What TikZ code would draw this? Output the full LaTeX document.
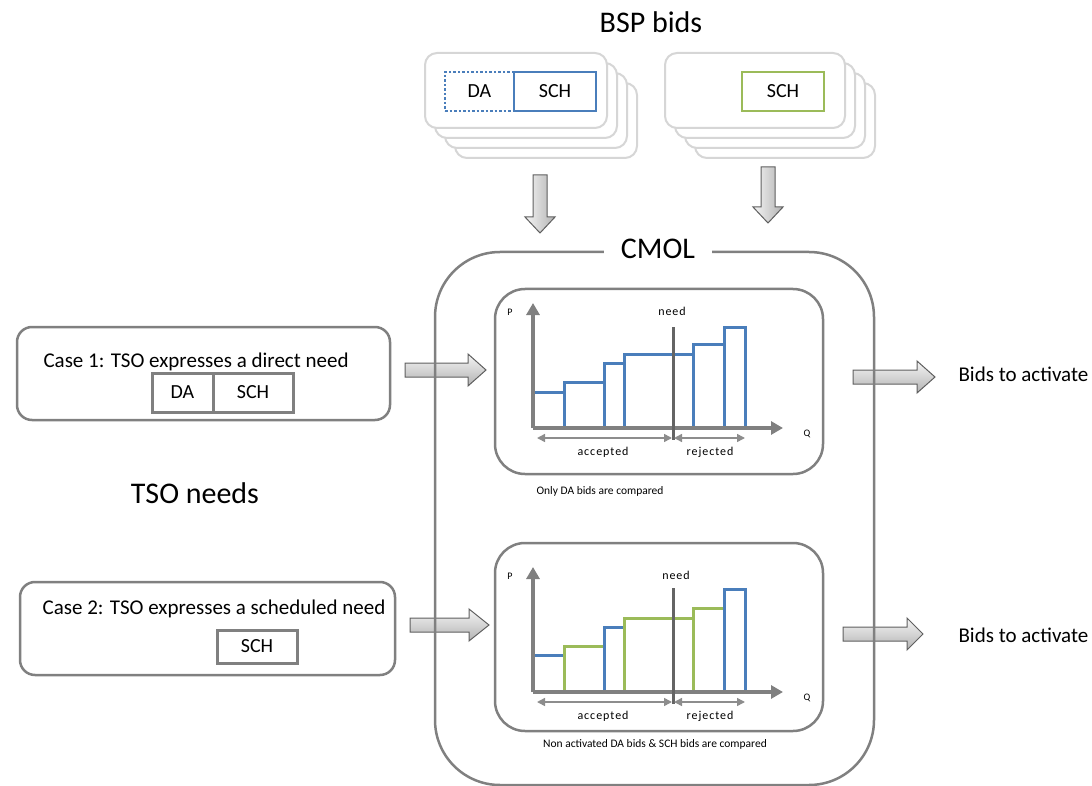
\documentclass[tikz,border=0pt]{standalone}
\usepackage{fontspec}
\setmainfont{Carlito}
\usetikzlibrary{arrows.meta}
\definecolor{bord}{RGB}{128,128,128}
\definecolor{cardc}{RGB}{214,214,214}
\definecolor{bidblue}{RGB}{74,126,187}
\definecolor{bidgreen}{RGB}{155,187,89}
\definecolor{needc}{RGB}{100,100,100}
\definecolor{arrowdraw}{RGB}{95,95,95}
\tikzset{
  frame/.style={draw=bord, line width=2.5pt, rounded corners=#1, inner sep=0pt},
  card/.style={draw=cardc, line width=2pt, fill=white, rounded corners=12pt},
  bidbox/.style={draw=#1, line width=2.5pt, minimum height=39pt, inner sep=0pt, font=\fontsize{20}{20}\selectfont},
  casebox/.style={draw=bord, line width=3pt, inner sep=0pt, font=\fontsize{20}{20}\selectfont},
  blockshade/.style={draw=arrowdraw, line width=1pt, top color=white!92!gray, bottom color=gray!60},
  blockshadev/.style={draw=arrowdraw, line width=1pt, left color=white!92!gray, right color=gray!60},
  bigtext/.style={font=\fontsize{30}{30}\selectfont},
  midtext/.style={font=\fontsize{21}{21}\selectfont},
  charttext/.style={font=\fontsize{12}{12}\selectfont\addfontfeature{LetterSpace=8}},
  captext/.style={font=\fontsize{11.5}{11.5}\selectfont},
  axislabel/.style={font=\fontsize{10}{10}\selectfont},
  axisline/.style={draw=bord, line width=4pt, -{Triangle[length=12pt,width=13pt]}},
  rangearrow/.style={draw=bord!90, line width=1.5pt, {Triangle[length=8pt,width=8pt]}-{Triangle[length=8pt,width=8pt]}},
  bar/.style={line width=3pt},
  needline/.style={draw=needc, line width=3pt}
}
\newcommand\harrow[4]{%
  \shade[blockshade] (#1,#4-7) -- (#2,#4-7) -- (#2,#4-16) -- (#3,#4) -- (#2,#4+16) -- (#2,#4+7) -- (#1,#4+7) -- cycle;}
\newcommand\varrow[4]{%
  \shade[blockshadev] (#1-7,#2) -- (#1+7,#2) -- (#1+7,#3) -- (#1+15,#3) -- (#1,#4) -- (#1-15,#3) -- (#1-7,#3) -- cycle;}
\newcommand\chartbars[1]{%
  \foreach \xa/\xb/\hh/\cc in {#1} {\draw[bar, draw=\cc] (\xa,0) -- (\xa,-\hh) -- (\xb,-\hh) -- (\xb,0);}}
\newcommand\chartaxes[1]{%
  \draw[axisline] (0,0) -- (0,-125);
  \draw[axisline] (0,0) -- (250,0);
  \draw[needline] (140,-#1) -- (140,12);
  \draw[rangearrow] (4,10) -- (139,10);
  \draw[rangearrow] (141,10) -- (212,10);
  \node[charttext] at (70,24) {accepted};
  \node[charttext] at (177,24) {rejected};
  \node[axislabel] at (-23,-116) {P};
  \node[axislabel] at (274,6) {Q};}
\begin{document}
\begin{tikzpicture}[x=1pt,y=-1pt]
\useasboundingbox (0,0) rectangle (1092,786);
% block arrows
\harrow{405}{468}{486}{370}
\harrow{410}{469}{489}{625}
\harrow{853}{917}{935}{377}
\harrow{843}{907}{923}{634}
\varrow{540}{175}{217}{233}
\varrow{768}{167}{207}{223}
% title
\node[bigtext] (bsp) at (651,22) {BSP bids};
% left card stack
\foreach \k in {3,2,1,0} {\draw[card] (425+10*\k,53+10*\k) rectangle (607+10*\k,128+10*\k);}
\node[bidbox=bidblue, dotted, minimum width=69pt] (da1) at (479.5,91.5) {DA};
\node[bidbox=bidblue, minimum width=82pt] (sch1) at (555,91.5) {SCH};
% right card stack
\foreach \k in {3,2,1,0} {\draw[card] (665+10*\k,53+10*\k) rectangle (845+10*\k,128+10*\k);}
\node[bidbox=bidgreen, minimum width=82pt] (sch2) at (783,91.5) {SCH};
% TSO side
\node[frame=15pt, minimum width=373pt, minimum height=93pt] (case1) at (203.5,373.5) {};
\node[midtext, anchor=west] (case1t) at (40,362) {Case 1: TSO expresses a direct need};
\node[casebox, minimum width=61pt, minimum height=39pt] (cda) at (182.5,392.5) {DA};
\node[casebox, minimum width=80pt, minimum height=39pt] (csch) at (253,392.5) {SCH};
\node[bigtext] (tso) at (195,493) {TSO needs};
\node[frame=15pt, minimum width=375pt, minimum height=93pt] (case2) at (207.5,628.5) {};
\node[midtext] (case2t) at (214,609) {Case 2: TSO expresses a scheduled need};
\node[casebox, minimum width=80pt, minimum height=33pt] (csch2) at (257,646.5) {SCH};
% CMOL
\node[frame=65pt, minimum width=439pt, minimum height=533pt] (cmol) at (654.5,518.5) {};
\node[bigtext, fill=white, inner xsep=17pt, inner ysep=2pt] (cmolt) at (658,249) {CMOL};
\node[frame=30pt, minimum width=328pt, minimum height=185pt] (box1) at (659,381.5) {};
\node[frame=30pt, minimum width=328pt, minimum height=188pt] (box2) at (659,637) {};
\node[captext] (cap1) at (600,491) {Only DA bids are compared};
\node[captext] (cap2) at (655,744) {Non activated DA bids \& SCH bids are compared};
% chart 1
\begin{scope}[shift={(533,428)}]
  \chartbars{0/31/36/bidblue, 31/71/46/bidblue, 71/91/65/bidblue, 91/160/74/bidblue, 160/191/84/bidblue, 191/212/101/bidblue}
  \chartaxes{101}
  \node[charttext] (need1) at (139,-117) {need};
\end{scope}
% chart 2
\begin{scope}[shift={(533,692)}]
  \chartbars{0/31/37/bidblue, 31/71/46/bidgreen, 71/91/65/bidblue, 91/160/74/bidgreen, 160/191/84/bidgreen, 191/212/103/bidblue}
  \chartaxes{104}
  \node[charttext] (need2) at (143,-117) {need};
\end{scope}
% outputs
\node[midtext, anchor=west] (out1) at (955,374) {Bids to activate};
\node[midtext, anchor=west] (out2) at (955,635) {Bids to activate};
\end{tikzpicture}
\end{document}
